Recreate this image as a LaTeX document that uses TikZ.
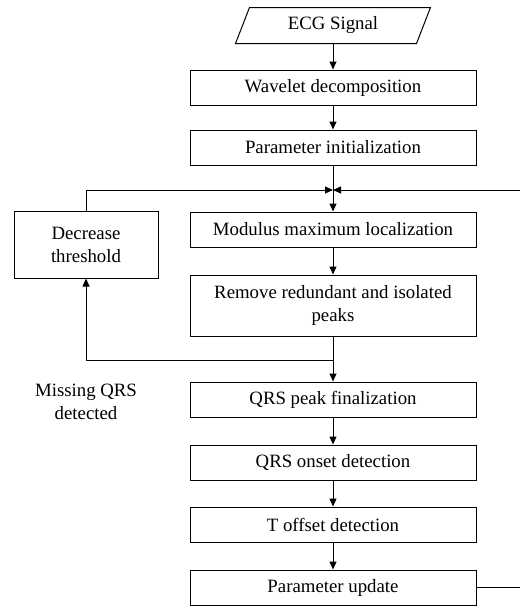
\documentclass[tikz,border=0pt]{standalone}
\usepackage{fontspec}
\setmainfont{Liberation Serif}
\usetikzlibrary{positioning,arrows.meta}

\begin{document}
\begin{tikzpicture}[x=1pt, y=-1pt, node distance=26pt, line width=1pt,
      >={Triangle[length=8pt,width=7pt]},
      every node/.style = {font=\fontsize{18.8}{23}\selectfont},
      box/.style = {shape=rectangle, draw, align=center, inner sep=0pt,
        minimum width=286pt, minimum height=35pt}]
  \useasboundingbox (0,0) rectangle (520,606);
  \clip (0,0) rectangle (520,606);
  \node[inner sep=0pt, minimum width=180pt, minimum height=35pt] (ecg) at (333,25.5) {ECG Signal};
  \draw ([xshift=-7pt]ecg.south west) -- ([xshift=7pt]ecg.north west)
    -- ([xshift=7pt]ecg.north east) -- ([xshift=-7pt]ecg.south east) -- cycle;
  \node[box, below=26pt of ecg] (wav) {Wavelet decomposition};
  \node[box, below=24pt of wav] (init) {Parameter initialization};
  \node[box, below=46pt of init] (mod) {Modulus maximum localization};
  \node[box, below=27pt of mod, minimum height=61pt] (rem) {Remove redundant and isolated\\peaks};
  \node[box, below=45pt of rem] (peak) {QRS peak finalization};
  \node[box, below=27pt of peak] (onset) {QRS onset detection};
  \node[box, below=26pt of onset] (toff) {T offset detection};
  \node[box, below=27pt of toff] (upd) {Parameter update};
  \node[box, minimum width=144pt, minimum height=67pt] (dec) at (86,244.5) {Decrease\\threshold};
  \node[align=center] (miss) at (86,402) {Missing QRS\\detected};
  \coordinate (join) at (333,190);
  \coordinate (split) at (333,360);
  \coordinate (rside) at (521,190);
  % main flow
  \draw[->] (ecg) -- (wav);
  \draw[->] (wav) -- (init);
  \draw (init) -- (join);
  \draw[->] (join) -- (mod);
  \draw[->] (mod) -- (rem);
  \draw (rem) -- (split);
  \draw[->] (split) -- (peak);
  \draw[->] (peak) -- (onset);
  \draw[->] (onset) -- (toff);
  \draw[->] (toff) -- (upd);
  % loops
  \draw[->] (split) -| (dec.south);
  \draw[->] (dec.north) |- (join);
  \draw[->] (upd.east) -| (rside) -- (join);
\end{tikzpicture}
\end{document}
